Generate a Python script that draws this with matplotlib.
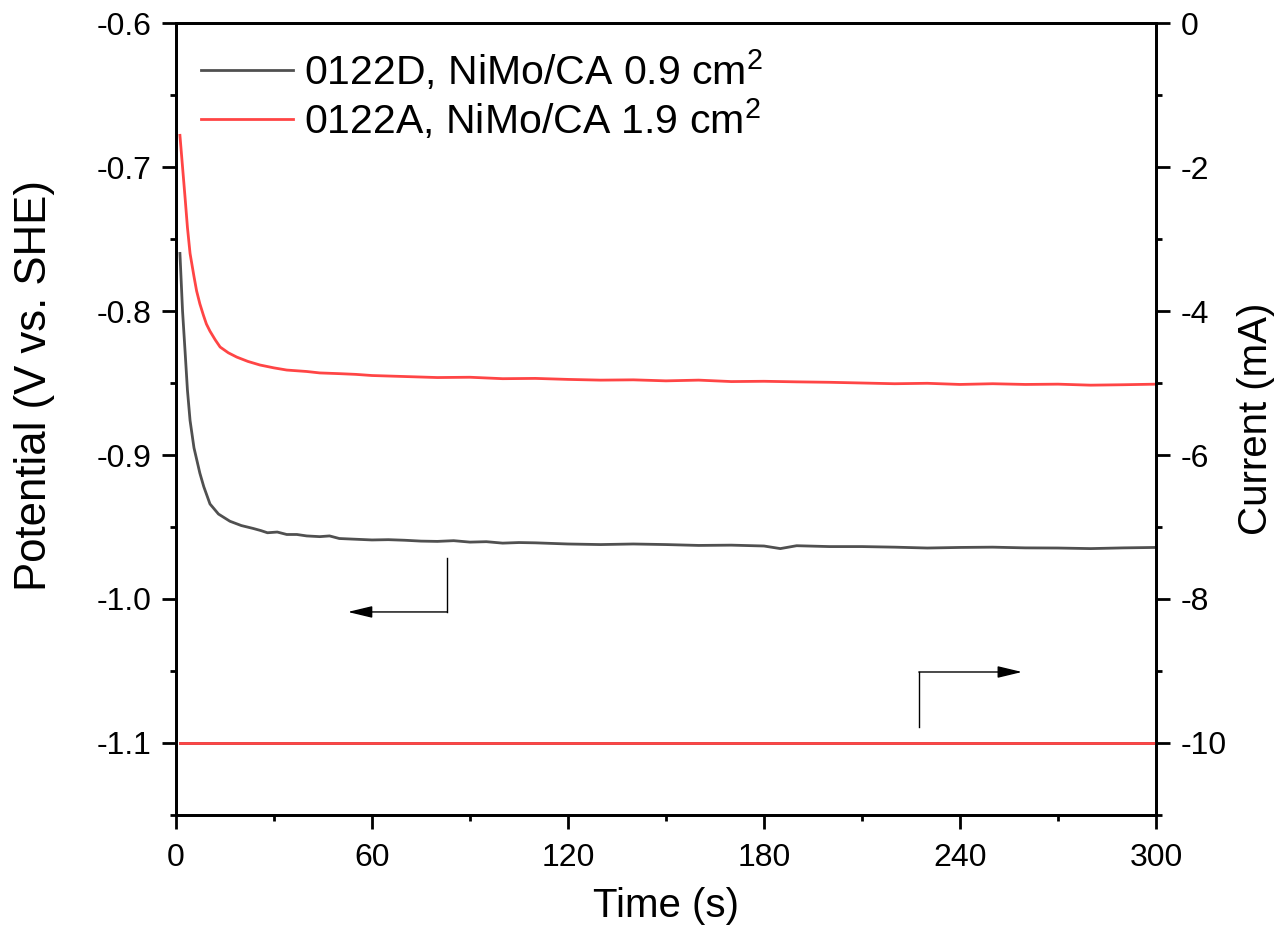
import matplotlib
matplotlib.use("Agg")
import matplotlib.pyplot as plt
from matplotlib.ticker import MultipleLocator, FormatStrFormatter

plt.rcParams['font.family'] = ['Liberation Sans', 'DejaVu Sans']
plt.rcParams['mathtext.fontset'] = 'custom'
plt.rcParams['mathtext.rm'] = 'Liberation Sans'
plt.rcParams['axes.unicode_minus'] = False

# potential vs time, sample 0122D (0.9 cm2)
t_d = [1.2, 2.0, 2.8, 3.5, 4.3, 5.5, 7.3, 8.5, 10.4, 13, 16.5, 20, 23.6, 26, 28,
       31, 33.9, 37, 40, 44, 47, 50, 55, 60, 65, 70, 75, 80, 85, 90, 95, 100,
       105, 110, 120, 130, 140, 150, 160, 170, 180, 185, 190, 200, 210, 220,
       230, 240, 250, 260, 270, 280, 290, 300]
v_d = [-0.760, -0.800, -0.829, -0.855, -0.876, -0.895, -0.9126, -0.922, -0.934,
       -0.941, -0.946, -0.949, -0.951, -0.9525, -0.9540, -0.9535, -0.9552,
       -0.9552, -0.9562, -0.9567, -0.9562, -0.958, -0.9585, -0.959, -0.9588,
       -0.9592, -0.9598, -0.9600, -0.9595, -0.9605, -0.9602, -0.9612, -0.9608,
       -0.9610, -0.9618, -0.9622, -0.9618, -0.9622, -0.9628, -0.9626, -0.9632,
       -0.9650, -0.9630, -0.9636, -0.9636, -0.9640, -0.9646, -0.9642, -0.9640,
       -0.9645, -0.9646, -0.9650, -0.9645, -0.9642]

# potential vs time, sample 0122A (1.9 cm2)
t_a = [1.2, 2.0, 2.8, 3.5, 4.3, 5.5, 6.3, 7.3, 8.4, 9.3, 10.4, 12, 13.5, 16, 18.6,
       22, 25.7, 30, 33.9, 40, 44, 50, 55, 60, 70, 80, 90, 100, 110, 120, 130,
       140, 150, 160, 170, 180, 190, 200, 210, 220, 230, 240, 250, 260, 270,
       280, 290, 300]
v_a = [-0.678, -0.700, -0.722, -0.742, -0.760, -0.776, -0.786, -0.795, -0.803,
       -0.809, -0.814, -0.820, -0.825, -0.829, -0.832, -0.835, -0.8375, -0.8395,
       -0.841, -0.842, -0.843, -0.8435, -0.844, -0.8448, -0.8455, -0.8462,
       -0.8460, -0.8470, -0.8468, -0.8475, -0.8480, -0.8478, -0.8485, -0.8480,
       -0.8490, -0.8488, -0.8492, -0.8495, -0.8500, -0.8505, -0.8502, -0.8510,
       -0.8505, -0.8510, -0.8508, -0.8515, -0.8512, -0.8508]

# applied current (mA)
t_i = [1.2, 300]
i_d = [-10, -10]
i_a = [-10, -10]

labels = ['0122D, NiMo/CA 0.9 cm$^\\mathregular{2}$',
          '0122A, NiMo/CA 1.9 cm$^\\mathregular{2}$']
gray = '#505050'
red = '#ff4545'

fig = plt.figure(figsize=(12.81, 9.4), dpi=100)
ax = fig.add_axes([0.1374, 0.1330, 0.7650, 0.8425])
ax2 = ax.twinx()

ax.plot(t_d, v_d, color=gray, lw=2.0, label=labels[0])
ax.plot(t_a, v_a, color=red, lw=2.0, label=labels[1])
ax2.plot(t_i, i_d, color=gray, lw=2.0)
ax2.plot(t_i, i_a, color=red, lw=2.0)

ax.set_xlim(0, 300)
ax.set_ylim(-1.15, -0.6)
ax2.set_ylim(-11, 0)

ax.xaxis.set_major_locator(MultipleLocator(60))
ax.xaxis.set_minor_locator(MultipleLocator(30))
ax.yaxis.set_major_locator(MultipleLocator(0.1))
ax.yaxis.set_minor_locator(MultipleLocator(0.05))
ax.yaxis.set_major_formatter(FormatStrFormatter('%.1f'))
ax2.yaxis.set_major_locator(MultipleLocator(2))
ax2.yaxis.set_minor_locator(MultipleLocator(1))

for a in (ax, ax2):
    for s in a.spines.values():
        s.set_linewidth(2.0)
    a.tick_params(which='major', direction='out', length=10, width=2, labelsize=23)
    a.tick_params(which='minor', direction='out', length=4.5, width=2)
ax.tick_params(top=False, right=False, which='both')
ax.tick_params(axis='x', pad=10)
ax.tick_params(axis='y', pad=8)
ax2.tick_params(axis='y', pad=8)

ax.set_xlabel('Time (s)', fontsize=29, labelpad=10)
ax.set_ylabel('Potential (V vs. SHE)', fontsize=31.5)
ax.yaxis.set_label_coords(-0.1235, 0.542)
ax2.set_ylabel('Current (mA)', fontsize=29)
ax2.yaxis.set_label_coords(1.0827, 0.5)

ax.legend(loc='upper left', frameon=False, fontsize=29.5, handlelength=2.25,
          handletextpad=0.27, labelspacing=0.1, borderaxespad=0.2,
          bbox_to_anchor=(0.0, 1.0))

# arrows pointing to the axis each curve belongs to
head = '-|>,head_length=0.75,head_width=0.18'
ax.plot([83, 83], [-0.9715, -1.009], color='black', lw=1.0)
ax.annotate('', xy=(52.6, -1.009), xytext=(83, -1.009),
            arrowprops=dict(arrowstyle=head, mutation_scale=20, color='black',
                            lw=1.0, shrinkA=0, shrinkB=0))
ax.plot([227.4, 227.4], [-1.089, -1.0507], color='black', lw=1.0)
ax.annotate('', xy=(259, -1.0507), xytext=(227.4, -1.0507),
            arrowprops=dict(arrowstyle=head, mutation_scale=20, color='black',
                            lw=1.0, shrinkA=0, shrinkB=0))

fig.savefig('out.png', dpi=100)
